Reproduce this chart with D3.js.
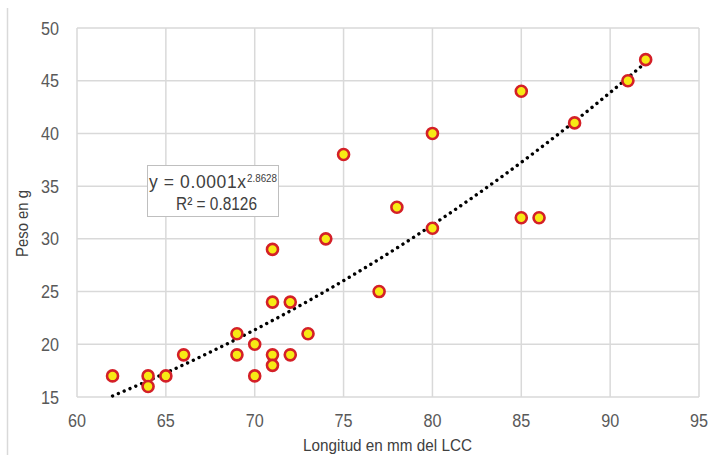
<!DOCTYPE html>
<html>
<head>
<meta charset="utf-8">
<script src="https://cdn.jsdelivr.net/npm/d3@7"></script>
<style>
  body { margin: 0; background: #fff; }
  text { font-family: "Liberation Sans", Arial, sans-serif; }
</style>
</head>
<body>
<script>
// longitud (mm) and peso (g)
var longitud = [62, 64, 64, 65, 66, 69, 69, 70, 70, 71, 71, 71, 71, 72, 72, 73, 74, 75, 77, 78, 80, 80, 85, 85, 86, 88, 91, 92];
var peso     = [17, 17, 16, 17, 19, 21, 19, 20, 17, 29, 24, 19, 18, 24, 19, 21, 30, 38, 25, 33, 40, 31, 44, 32, 32, 41, 45, 47];

var xTicks = [60, 65, 70, 75, 80, 85, 90, 95];
var yTicks = [15, 20, 25, 30, 35, 40, 45, 50];

// power trendline y = a * x^b
var trendA = 0.0001116, trendB = 2.8628;
var trendLabel = ["y = 0.0001x", "2.8628", "R\u00b2 = 0.8126"];

var width = 709, height = 455;

var x = d3.scaleLinear().domain([60, 95]).range([77, 699]);
var y = d3.scaleLinear().domain([15, 50]).range([397, 28]);

var svg = d3.select("body").append("svg")
    .attr("width", width)
    .attr("height", height);

// left border of the chart frame
svg.append("line")
    .attr("x1", 7.5).attr("x2", 7.5)
    .attr("y1", 8).attr("y2", height)
    .style("stroke", "#d9d9d9")
    .style("stroke-width", 1.5);

// gridlines
svg.append("g").selectAll("line")
    .data(xTicks)
    .enter().append("line")
    .attr("x1", function(d) { return x(d); })
    .attr("x2", function(d) { return x(d); })
    .attr("y1", y(15)).attr("y2", y(50))
    .style("stroke", "#d9d9d9")
    .style("stroke-width", 1.5);

svg.append("g").selectAll("line")
    .data(yTicks)
    .enter().append("line")
    .attr("y1", function(d) { return y(d); })
    .attr("y2", function(d) { return y(d); })
    .attr("x1", x(60)).attr("x2", x(95))
    .style("stroke", "#d9d9d9")
    .style("stroke-width", 1.5);

// tick labels (the original font is a bit condensed)
svg.append("g").selectAll("text")
    .data(xTicks)
    .enter().append("text")
    .attr("x", function(d) { return x(d) - 9; })
    .attr("y", 427)
    .attr("textLength", 18)
    .attr("lengthAdjust", "spacingAndGlyphs")
    .style("font-size", "17.5px")
    .style("fill", "#595959")
    .text(function(d) { return d; });

svg.append("g").selectAll("text")
    .data(yTicks)
    .enter().append("text")
    .attr("x", 41)
    .attr("y", function(d) { return y(d) + 6.5; })
    .attr("textLength", 18)
    .attr("lengthAdjust", "spacingAndGlyphs")
    .style("font-size", "17.5px")
    .style("fill", "#595959")
    .text(function(d) { return d; });

// axis titles
svg.append("text")
    .attr("x", 303)
    .attr("y", 451)
    .attr("textLength", 169)
    .attr("lengthAdjust", "spacingAndGlyphs")
    .style("font-size", "16.5px")
    .style("fill", "#404040")
    .text("Longitud en mm del LCC");

svg.append("text")
    .attr("transform", "translate(28,257) rotate(-90)")
    .attr("textLength", 67)
    .attr("lengthAdjust", "spacingAndGlyphs")
    .style("font-size", "16px")
    .style("fill", "#404040")
    .text("Peso en g");

// trendline
var trendX = d3.range(d3.min(longitud), d3.max(longitud) + 0.01, 0.25);
var line = d3.line()
    .x(function(d) { return x(d); })
    .y(function(d) { return y(trendA * Math.pow(d, trendB)); });

svg.append("path")
    .datum(trendX)
    .attr("d", line)
    .style("fill", "none")
    .style("stroke", "#000")
    .style("stroke-width", 3.4)
    .style("stroke-linecap", "round")
    .style("stroke-dasharray", "0.01,6.3");

// points
var pts = longitud.map(function(d, i) { return {x: d, y: peso[i]}; });
svg.append("g").selectAll("circle")
    .data(pts)
    .enter().append("circle")
    .attr("cx", function(d) { return x(d.x); })
    .attr("cy", function(d) { return y(d.y); })
    .attr("r", 5.5)
    .style("fill", "#f7ea14")
    .style("stroke", "#d42027")
    .style("stroke-width", 2.6);

// equation label
svg.append("rect")
    .attr("x", 147.5).attr("y", 165.5)
    .attr("width", 131).attr("height", 51)
    .style("fill", "#fff")
    .style("stroke", "#bfbfbf")
    .style("stroke-width", 1);

svg.append("text")
    .attr("x", 149)
    .attr("y", 188)
    .attr("textLength", 97)
    .attr("lengthAdjust", "spacing")
    .style("font-size", "17.5px")
    .style("fill", "#404040")
    .text(trendLabel[0]);

svg.append("text")
    .attr("x", 247)
    .attr("y", 182)
    .attr("textLength", 30)
    .attr("lengthAdjust", "spacingAndGlyphs")
    .style("font-size", "10.5px")
    .style("fill", "#404040")
    .text(trendLabel[1]);

svg.append("text")
    .attr("x", 176)
    .attr("y", 210)
    .attr("textLength", 81)
    .attr("lengthAdjust", "spacingAndGlyphs")
    .style("font-size", "17.5px")
    .style("fill", "#404040")
    .text(trendLabel[2]);
</script>
</body>
</html>
